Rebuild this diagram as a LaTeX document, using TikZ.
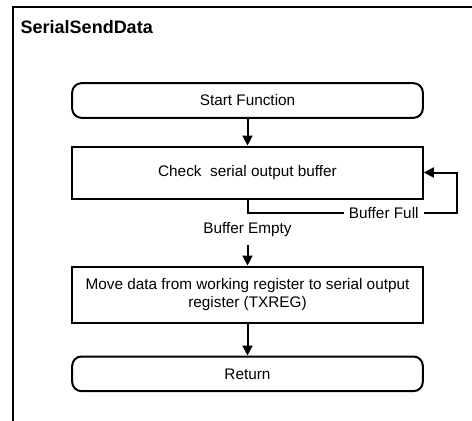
\documentclass[tikz,border=0pt]{standalone}
\usepackage{fontspec}
\setmainfont{Liberation Sans}
\usepackage{tikz}
\usetikzlibrary{positioning,arrows.meta}

\begin{document}
\begin{tikzpicture}[
      x=0.75pt, y=-0.75pt,
      every node/.style={align=center, font=\fontsize{11.5}{14}\selectfont},
      terminal/.style={draw, line width=1.5pt, rounded corners=7pt, minimum width=263pt, minimum height=26pt},
      process/.style={draw, line width=1.5pt, minimum width=263pt, minimum height=39pt},
      tag/.style={fill=white, inner xsep=4pt, inner ysep=1pt},
      arrow/.style={line width=1.5pt, -{Triangle[length=7.5pt,width=7.5pt]}}
    ]
      \useasboundingbox (0,0) rectangle (472,421);
      % frame and title
      \draw[line width=1.5pt] (472,7) -- (13,7) -- (13,421);
      \node[anchor=base west, font=\fontsize{13.5}{16}\bfseries] (title) at (16,33) {SerialSendData};
      \node[terminal] (start) at (247.5,100.5) {Start Function};
      \node[process, below=20pt of start] (check) {Check\ \ serial output buffer};
      \node[process, below=49.5pt of check, minimum height=42pt] (move) {Move data from working register to serial output\\register (TXREG)};
      \node[terminal, below=24pt of move] (ret) {Return};
      \coordinate[below=10pt of check.south] (split);
      \coordinate[right=25pt of check.east] (loop);
      \node[tag, below=0pt of split, minimum height=24pt, inner ysep=0pt] (empty) {Buffer Empty};
      \draw[arrow] (start) -- (check);
      \draw[arrow] (check.south) -- (split) -- node[tag, pos=0.65] (full) {Buffer Full} (split -| loop) -- (loop) -- (check.east);
      \draw[arrow] (empty) -- (move);
      \draw[arrow] (move) -- (ret);
    \end{tikzpicture}
\end{document}
